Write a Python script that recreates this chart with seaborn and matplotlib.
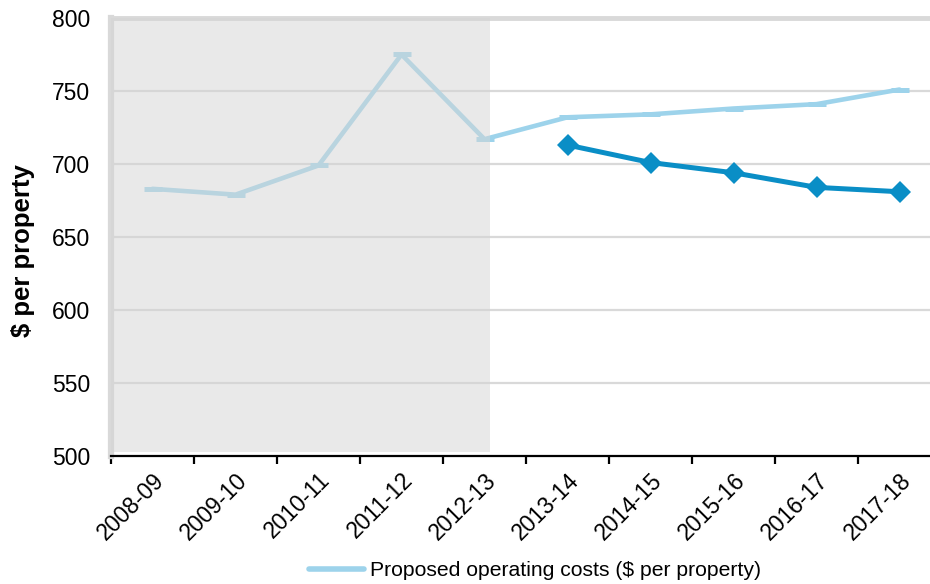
import numpy as np
import pandas as pd
import matplotlib
matplotlib.use("Agg")
import matplotlib.pyplot as plt
from matplotlib.lines import Line2D
import seaborn as sns

categories = ["2008-09", "2009-10", "2010-11", "2011-12", "2012-13",
              "2013-14", "2014-15", "2015-16", "2016-17", "2017-18"]
proposed_costs = [683, 679, 699, 775, 717, 732, 734, 738, 741, 751]
forecast_categories = ["2013-14", "2014-15", "2015-16", "2016-17", "2017-18"]
forecast_costs = [713, 701, 694, 684, 681]
y_ticks = [500, 550, 600, 650, 700, 750, 800]
legend_label = "Proposed operating costs ($ per property)"
y_label = "$ per property"

sns.set_theme(style="white")
plt.rcParams["font.family"] = ["Liberation Sans", "DejaVu Sans"]
plt.rcParams["text.color"] = "black"
plt.rcParams["xtick.color"] = "black"
plt.rcParams["ytick.color"] = "black"
plt.rcParams["axes.labelcolor"] = "black"

pos = {c: i for i, c in enumerate(categories)}
df_prop = pd.DataFrame({"pos": [pos[c] for c in categories], "value": proposed_costs})
df_fc = pd.DataFrame({"pos": [pos[c] for c in forecast_categories], "value": forecast_costs})

light = "#9dd3eb"
dark = "#0a8ec6"

fig = plt.figure(figsize=(9.3, 5.84), dpi=100)
ax = fig.add_axes([111 / 930, (584 - 456) / 584, 830 / 930, 438 / 584])

sns.lineplot(data=df_prop, x="pos", y="value", ax=ax, color=light, linewidth=3.3,
             marker="_", markersize=13, markeredgewidth=3.6, markeredgecolor=light,
             zorder=3)
sns.lineplot(data=df_fc, x="pos", y="value", ax=ax, color=dark, linewidth=3.6,
             marker="D", markersize=11.5, markeredgewidth=0, markeredgecolor=dark,
             markerfacecolor=dark, zorder=4)

# historical shading drawn over the lines
ax.axvspan(-0.5, 4.07, ymin=0.01, ymax=1.0, color="#d5d5d5", alpha=0.5, zorder=5, lw=0)

ax.set_xlim(-0.5, len(categories) - 0.5)
ax.set_ylim(y_ticks[0], y_ticks[-1])
ax.set_yticks(y_ticks)
ax.set_yticklabels([str(v) for v in y_ticks], fontsize=16.5)
for yv in y_ticks[1:-1]:
    ax.axhline(yv, color="#d9d9d9", lw=1.6, zorder=1)

ax.set_xticks(np.arange(len(categories)))
ax.set_xticklabels(categories, rotation=45, ha="right", rotation_mode="anchor", fontsize=16.5)
ax.set_xticks(np.arange(len(categories) + 1) - 0.5, minor=True)
ax.tick_params(axis="x", which="major", length=0, pad=9)
ax.tick_params(axis="x", which="minor", length=6, width=1.6, color="black", direction="out", bottom=True)
ax.tick_params(axis="y", length=0, pad=15)

ax.spines["left"].set_color("#d9d9d9")
ax.spines["left"].set_linewidth(4.5)
ax.spines["top"].set_color("#d9d9d9")
ax.spines["top"].set_linewidth(3.5)
ax.spines["right"].set_visible(False)
ax.spines["bottom"].set_color("black")
ax.spines["bottom"].set_linewidth(1.6)
ax.spines["bottom"].set_zorder(6)

ax.set_xlabel("")
ax.set_ylabel(y_label, fontsize=18.5, fontweight="bold")
ax.yaxis.set_label_coords(-0.091, 0.47, transform=ax.transAxes)

h = Line2D([0], [0], color=light, lw=4)
fig.legend([h], [legend_label], loc="center", bbox_to_anchor=(535 / 930, 1 - 571 / 584),
           frameon=False, fontsize=15.2, handlelength=2.6, handletextpad=0.3)

fig.savefig("out.png", dpi=100)
